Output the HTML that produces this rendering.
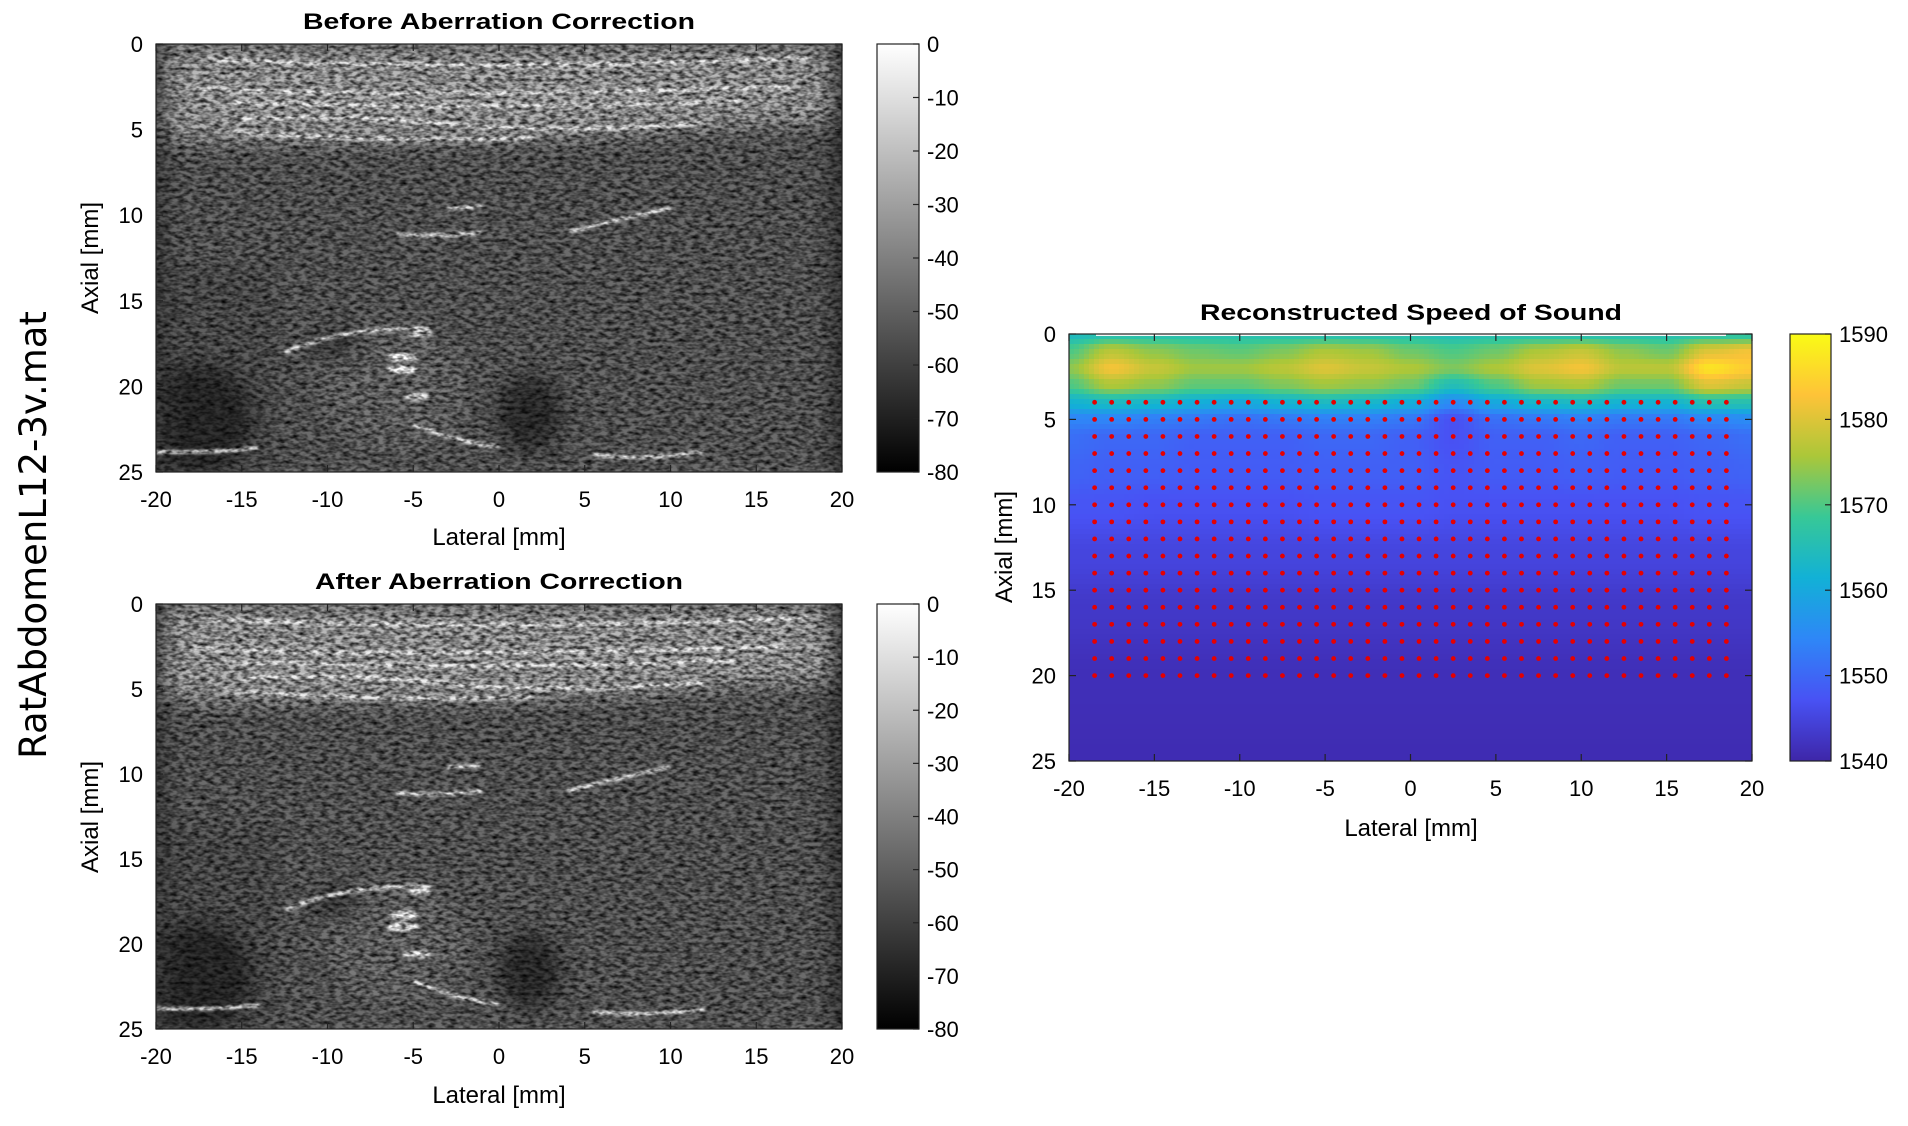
<!DOCTYPE html>
<html><head><meta charset="utf-8"><style>
html,body{margin:0;padding:0;background:#fff;}
svg text{font-family:"Liberation Sans",Arial,sans-serif;fill:#000;}
</style></head><body>
<svg id="fig" xmlns="http://www.w3.org/2000/svg" width="1908" height="1121" viewBox="0 0 1908 1121">
<defs>
<filter id="spk" x="0" y="0" width="100%" height="100%" color-interpolation-filters="sRGB">
<feTurbulence type="fractalNoise" baseFrequency="0.14 0.28" numOctaves="2" seed="7" result="n"/>
<feColorMatrix in="n" type="matrix" values="1.7 0 0 0 -0.15  1.7 0 0 0 -0.15  1.7 0 0 0 -0.15  0 0 0 0 1" result="g"/>
<feBlend in="SourceGraphic" in2="g" mode="multiply" result="m"/>
<feComposite in="m" in2="SourceGraphic" operator="in"/>
</filter>
<filter id="bl" x="-20%" y="-20%" width="140%" height="140%"><feGaussianBlur stdDeviation="0.6"/></filter>
<filter id="bl2" x="-20%" y="-20%" width="140%" height="140%"><feGaussianBlur stdDeviation="0.08"/></filter>
<clipPath id="c1"><rect x="156" y="44" width="686" height="428"/></clipPath>
<clipPath id="c2"><rect x="156" y="604" width="686" height="425"/></clipPath>
<linearGradient id="gray" x1="0" y1="0" x2="0" y2="1"><stop offset="0" stop-color="#fff"/><stop offset="1" stop-color="#000"/></linearGradient>
<linearGradient id="parula" x1="0" y1="1" x2="0" y2="0">
<stop offset="0" stop-color="rgb(62,38,168)"/><stop offset="0.143" stop-color="rgb(72,82,244)"/><stop offset="0.286" stop-color="rgb(46,135,247)"/><stop offset="0.429" stop-color="rgb(18,177,214)"/><stop offset="0.571" stop-color="rgb(55,200,151)"/><stop offset="0.714" stop-color="rgb(171,199,57)"/><stop offset="0.857" stop-color="rgb(254,195,56)"/><stop offset="1" stop-color="rgb(249,251,21)"/>
</linearGradient>
<g id="us">
  <g filter="url(#bl)">
    <rect x="-22" y="-1" width="44" height="27" fill="#6c6c6c"/>
    <rect x="-22" y="13" width="9" height="13" fill="#5e5e5e"/>
    <path d="M-22,0.3 L22,0.3 L22,4.3 Q16,4.6 10,5 Q0,5.8 -16,5.6 L-22,5.4 Z" fill="#b8b8b8"/>
    <rect x="-22" y="-1" width="44" height="1.2" fill="#707070"/>
    <ellipse cx="-17.5" cy="22" rx="3.2" ry="3.4" fill="#303030"/>
    <ellipse cx="1.8" cy="21.6" rx="2" ry="2.4" fill="#383838"/>
    <ellipse cx="-6" cy="20" rx="4.2" ry="3.6" fill="#7c7c7c"/>
    <ellipse cx="-9.5" cy="17.5" rx="1.5" ry="0.8" fill="#3c3c3c"/>
    <rect x="-22" y="-1" width="2.6" height="27" fill="#454545"/>
    <rect x="19.3" y="-1" width="3" height="27" fill="#404040"/>
  </g>
  <g filter="url(#bl2)" fill="none" stroke="#fafafa" stroke-width="0.22">
    <path d="M-17,0.9 Q0,1.6 18,0.8"/>
    <path d="M-18,2.6 Q-5,3.2 17,2.5"/>
    <path d="M-16,3.4 Q0,3.9 14,3.3"/>
    <path d="M-15,4.4 Q-8,4.0 -2,4.8 Q5,5.2 12,4.6"/>
    <path d="M-16,5.1 Q-8,5.7 2,5.5"/>
    <path d="M-6,11.1 Q-4,11.3 -1,11"/>
    <path d="M4,11 Q7,10.2 10,9.6"/>
    <path d="M-3,9.6 L-1,9.5"/>
    <path d="M-12.5,18 Q-9,16.5 -4,16.6"/>
    <path d="M-5,22.2 Q-2,23.4 0,23.5"/>
    <path d="M5.5,24 Q9,24.3 12,23.8"/>
    <path d="M-20,23.8 Q-17,23.9 -14,23.6"/>
  </g>
  <g filter="url(#bl2)" fill="#ffffff">
    <ellipse cx="-5.6" cy="18.3" rx="0.9" ry="0.28"/>
    <ellipse cx="-5.6" cy="19.0" rx="0.9" ry="0.28"/>
    <ellipse cx="-4.6" cy="16.9" rx="0.7" ry="0.22"/>
    <ellipse cx="-4.8" cy="20.6" rx="0.8" ry="0.22"/>
  </g>
</g>
</defs>

<text transform="translate(46,535) rotate(-90)" text-anchor="middle" font-size="37" style="font-family:'DejaVu Sans',sans-serif">RatAbdomenL12-3v.mat</text>

<g>
<text x="499" y="29" text-anchor="middle" font-size="22" font-weight="bold" textLength="392" lengthAdjust="spacingAndGlyphs">Before Aberration Correction</text>
<g clip-path="url(#c1)"><g filter="url(#spk)"><use href="#us" transform="translate(156,44) scale(17.15,17.12) translate(20,0)"/></g></g>
<rect x="156" y="44" width="686" height="428" fill="none" stroke="#222" stroke-width="1.2"/>
<g id="ax1"></g>
<text x="499" y="545" text-anchor="middle" font-size="24">Lateral [mm]</text>
<text transform="translate(98,258) rotate(-90)" text-anchor="middle" font-size="24">Axial [mm]</text>
<rect x="877" y="44" width="42" height="428" fill="url(#gray)" stroke="#222" stroke-width="1.2"/>
<g id="cb1"></g>
</g>

<g>
<text x="499" y="589" text-anchor="middle" font-size="22" font-weight="bold" textLength="368" lengthAdjust="spacingAndGlyphs">After Aberration Correction</text>
<g clip-path="url(#c2)"><g filter="url(#spk)"><use href="#us" transform="translate(156,604) scale(17.15,17.0) translate(20,0)"/></g></g>
<rect x="156" y="604" width="686" height="425" fill="none" stroke="#222" stroke-width="1.2"/>
<g id="ax2"></g>
<text x="499" y="1103" text-anchor="middle" font-size="24">Lateral [mm]</text>
<text transform="translate(98,817) rotate(-90)" text-anchor="middle" font-size="24">Axial [mm]</text>
<rect x="877" y="604" width="42" height="425" fill="url(#gray)" stroke="#222" stroke-width="1.2"/>
<g id="cb2"></g>
</g>

<g>
<text x="1411" y="320" text-anchor="middle" font-size="22" font-weight="bold" textLength="422" lengthAdjust="spacingAndGlyphs">Reconstructed Speed of Sound</text>
<g id="heat"></g>
<rect x="1096" y="334" width="630" height="2" fill="#f4f8f8"/>
<g id="dots"></g>
<rect x="1069" y="334" width="683" height="427" fill="none" stroke="#222" stroke-width="1.2"/>
<g id="ax3"></g>
<text x="1411" y="836" text-anchor="middle" font-size="24">Lateral [mm]</text>
<text transform="translate(1012,547) rotate(-90)" text-anchor="middle" font-size="24">Axial [mm]</text>
<rect x="1790" y="334" width="41" height="427" fill="url(#parula)" stroke="#222" stroke-width="1.2"/>
<g id="cb3"></g>
</g>
</svg>
<script>
const NS='http://www.w3.org/2000/svg';
const xTicks=[-20,-15,-10,-5,0,5,10,15,20];
const yTicks=[0,5,10,15,20,25];
const grayTicks=[0,-10,-20,-30,-40,-50,-60,-70,-80];
const sosTicks=[1540,1550,1560,1570,1580,1590];
const lateralGrid=[-20,-17.5,-15,-12.5,-10,-7.5,-5,-2.5,0,2.5,5,7.5,10,12.5,15,17.5,20];
const depthGrid=[0,1,2,3,4,5,6,8,10,13,16,20,25];
const sosValues=[
[1564,1566,1566,1566,1566,1566,1566,1566,1566,1565,1566,1566,1566,1566,1566,1567,1567],
[1570,1577,1574,1572,1571,1573,1576,1575,1572,1570,1572,1576,1578,1574,1572,1580,1582],
[1574,1582,1578,1575,1575,1577,1580,1578,1576,1573,1576,1580,1582,1577,1577,1587,1584],
[1570,1576,1574,1571,1571,1573,1575,1574,1572,1565,1570,1575,1576,1572,1572,1580,1578],
[1562,1564,1563,1561,1560,1562,1564,1563,1561,1555,1560,1563,1564,1562,1562,1566,1566],
[1554,1554,1553,1552,1551,1552,1553,1553,1552,1547,1551,1552,1553,1552,1552,1554,1555],
[1551,1550,1550,1549,1549,1549,1550,1550,1549,1547,1549,1549,1550,1549,1549,1550,1551],
[1549.5,1549,1549,1548.5,1548.5,1548.5,1549,1549,1549,1547.5,1548.5,1548.5,1549,1548.5,1548.5,1549,1549.5],
[1547.5,1547.5,1547,1547,1547,1547,1547.5,1547.5,1547.5,1547,1547,1547,1547,1547,1547,1547.5,1547.5],
[1545,1545,1545,1545,1545,1545,1545,1545,1545,1545,1545,1545,1545,1545,1545,1545,1545],
[1543,1543,1543,1543,1543,1543,1543,1543,1543,1543,1543,1543,1543,1543,1543,1543,1543],
[1541.5,1541.5,1541.5,1541.5,1541.5,1541.5,1541.5,1541.5,1541.5,1541.5,1541.5,1541.5,1541.5,1541.5,1541.5,1541.5,1541.5],
[1541,1541,1541,1541,1541,1541,1541,1541,1541,1541,1541,1541,1541,1541,1541,1541,1541]];
const dotLaterals=[-18.5,-17.5,-16.5,-15.5,-14.5,-13.5,-12.5,-11.5,-10.5,-9.5,-8.5,-7.5,-6.5,-5.5,-4.5,-3.5,-2.5,-1.5,-0.5,0.5,1.5,2.5,3.5,4.5,5.5,6.5,7.5,8.5,9.5,10.5,11.5,12.5,13.5,14.5,15.5,16.5,17.5,18.5];
const dotDepths=[4,5,6,7,8,9,10,11,12,13,14,15,16,17,18,19,20];

function mk(tag,attrs,parent){const e=document.createElementNS(NS,tag);for(const k in attrs)e.setAttribute(k,attrs[k]);parent.appendChild(e);return e;}

function axes(gid,x0,y0,w,h,prefix){
  const g=document.getElementById(gid);
  const sx=v=>x0+(v+20)/40*w, sy=v=>y0+v/25*h;
  xTicks.forEach(t=>{
    const x=sx(t);
    mk('line',{x1:x,y1:y0+h,x2:x,y2:y0+h-7,stroke:'#222','stroke-width':1.2},g);
    mk('line',{x1:x,y1:y0,x2:x,y2:y0+7,stroke:'#222','stroke-width':1.2},g);
    const tx=mk('text',{x:x,y:y0+h+35,'text-anchor':'middle','font-size':22},g);
    
    
    tx.textContent=t;
  });
  yTicks.forEach(t=>{
    const y=sy(t);
    mk('line',{x1:x0,y1:y,x2:x0+7,y2:y,stroke:'#222','stroke-width':1.2},g);
    mk('line',{x1:x0+w,y1:y,x2:x0+w-7,y2:y,stroke:'#222','stroke-width':1.2},g);
    const tx=mk('text',{x:x0-13,y:y+8,'text-anchor':'end','font-size':22},g);
    
    
    tx.textContent=t;
  });
}
axes('ax1',156,44,686,428,'before');
axes('ax2',156,604,686,425,'after');
axes('ax3',1069,334,683,427,'sos');

function cbar(gid,x0,y0,w,h,ticks,lo,hi,prefix){
  const g=document.getElementById(gid);
  ticks.forEach(t=>{
    const y=y0+(hi-t)/(hi-lo)*h;
    mk('line',{x1:x0+w,y1:y,x2:x0+w-6,y2:y,stroke:'#222','stroke-width':1.2},g);
    const tx=mk('text',{x:x0+w+8,y:y+8,'font-size':22},g);
    
    
    tx.textContent=t;
  });
}
cbar('cb1',877,44,42,428,grayTicks,-80,0,'before');
cbar('cb2',877,604,42,425,grayTicks,-80,0,'after');
cbar('cb3',1790,334,41,427,sosTicks,1540,1590,'sos');

const par=[[62,38,168],[72,82,244],[46,135,247],[18,177,214],[55,200,151],[171,199,57],[254,195,56],[249,251,21]];
function parula(v){let t=Math.max(0,Math.min(1,(v-1540)/50))*7;const i=Math.min(6,Math.floor(t)),f=t-i;
  const c=par[i].map((a,k)=>Math.round(a+(par[i+1][k]-a)*f));return 'rgb('+c.join(',')+')';}
function interp(arr,v){for(let i=0;i<arr.length-1;i++){if(v<=arr[i+1])return [i,(v-arr[i])/(arr[i+1]-arr[i])];}return [arr.length-2,1];}
function sm(f){return f*f*(3-2*f);}
function sosAt(lat,dep){let [i,fx]=interp(lateralGrid,lat);let [j,fy]=interp(depthGrid,dep);fx=sm(fx);fy=sm(fy);
  const a=sosValues[j][i],b=sosValues[j][i+1],c=sosValues[j+1][i],d=sosValues[j+1][i+1];
  return (a*(1-fx)+b*fx)*(1-fy)+(c*(1-fx)+d*fx)*fy;}
(function(){
  const g=document.getElementById('heat');
  const X0=1069,Y0=334,W=683,H=427,step=5;
  for(let py=0;py<H;py+=step){for(let px=0;px<W;px+=step){
    const lat=-20+(px+step/2)/W*40, dep=(py+step/2)/H*25;
    mk('rect',{x:X0+px,y:Y0+py,width:Math.min(step+0.6,W-px),height:Math.min(step+0.6,H-py),fill:parula(sosAt(lat,dep))},g);
  }}
  const d=document.getElementById('dots');
  dotDepths.forEach(dep=>{dotLaterals.forEach(lat=>{
    const c=mk('circle',{cx:X0+(lat+20)/40*W,cy:Y0+dep/25*H,r:2.4,fill:'#e60000'},d);
    
    
  });});
})();
</script>
</body></html>
